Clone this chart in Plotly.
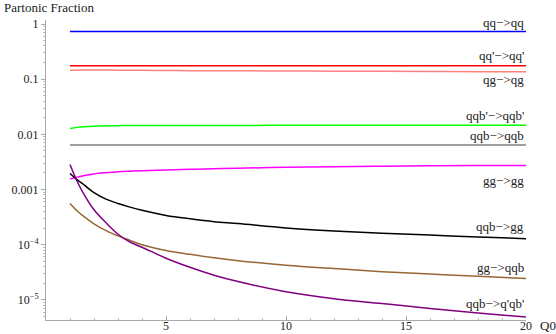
import numpy as np
import plotly.graph_objects as go

# Q0 grid and partonic fractions
q0 = [1, 1.3, 1.6, 2, 2.5, 3, 3.5, 4, 5, 6, 7, 8, 10, 12, 14, 16, 18, 20]

qq_qq = [0.73] * len(q0)
qqp_qqp = [0.175] * len(q0)
qg_qg = [0.145, 0.146, 0.147, 0.147, 0.147, 0.146, 0.146, 0.145, 0.144, 0.143,
         0.142, 0.142, 0.141, 0.140, 0.139, 0.138, 0.137, 0.137]
qqbp_qqbp = [0.0128, 0.0134, 0.0138, 0.0141, 0.0143, 0.0144, 0.0145, 0.0145, 0.0145,
             0.0145, 0.0145, 0.0145, 0.0146, 0.0146, 0.0146, 0.0146, 0.0146, 0.0146]
qqb_qqb = [0.0064] * len(q0)
gg_gg = [1.55e-3, 1.68e-3, 1.8e-3, 1.92e-3, 2.02e-3, 2.1e-3, 2.15e-3, 2.19e-3, 2.27e-3,
         2.33e-3, 2.39e-3, 2.44e-3, 2.53e-3, 2.6e-3, 2.65e-3, 2.69e-3, 2.72e-3, 2.74e-3]
qqb_gg = [1.95e-3, 1.5e-3, 1.2e-3, 8.8e-4, 6.7e-4, 5.6e-4, 4.8e-4, 4.2e-4, 3.4e-4,
          2.95e-4, 2.62e-4, 2.42e-4, 2.02e-4, 1.78e-4, 1.62e-4, 1.5e-4, 1.38e-4, 1.29e-4]
gg_qqb = [5.6e-4, 4.1e-4, 3.2e-4, 2.4e-4, 1.8e-4, 1.45e-4, 1.2e-4, 1.0e-4, 7.9e-5,
          6.7e-5, 5.8e-5, 5.15e-5, 4.27e-5, 3.7e-5, 3.25e-5, 2.95e-5, 2.68e-5, 2.45e-5]
qqb_qpqbp = [2.85e-3, 1.4e-3, 7.9e-4, 4.3e-4, 2.5e-4, 1.55e-4, 1.12e-4, 9.0e-5, 5.7e-5,
             3.9e-5, 2.8e-5, 2.15e-5, 1.41e-5, 1.05e-5, 8.6e-6, 7.0e-6, 5.8e-6, 4.9e-6]

# name, values, colour, label offset (px, + = above line end)
series = [
    ("qq\u2212>qq", qq_qq, "#0000FF", 9),
    ("qq'\u2212>qq'", qqp_qqp, "#FF0000", 10),
    ("qg\u2212>qg", qg_qg, "#FF8080", -8),
    ("qqb'\u2212>qqb'", qqbp_qqbp, "#00FF00", 10),
    ("qqb\u2212>qqb", qqb_qqb, "#808080", 10),
    ("gg\u2212>gg", gg_gg, "#FF00FF", -15),
    ("qqb\u2212>gg", qqb_gg, "#000000", 12),
    ("gg\u2212>qqb", gg_qqb, "#996633", 11),
    ("qqb\u2212>q'qb'", qqb_qpqbp, "#800080", 14),
]

ytick_vals = [1, 0.1, 0.01, 0.001, 1e-4, 1e-5]
ytick_text = ["1", "0.1", "0.01", "0.001", "10<sup>\u22124</sup>", "10<sup>\u22125</sup>"]
minor_y = [m * 10.0 ** e for e in range(-6, 1) for m in range(2, 10)]

serif = "Liberation Serif"
txt = "#222222"

fig = go.Figure()
for name, vals, color, shift in series:
    fig.add_trace(go.Scatter(x=q0, y=vals, mode="lines", name=name,
                             line=dict(color=color, width=1.5, shape="spline")))
    fig.add_annotation(x=q0[-1], y=np.log10(vals[-1]), text=name, showarrow=False,
                       xanchor="right", yanchor="middle", yshift=shift,
                       font=dict(family=serif, size=13, color=txt))

fig.add_annotation(xref="paper", yref="paper", x=0, y=1, xshift=-44, yshift=3,
                   xanchor="left", yanchor="bottom", text="Partonic Fraction",
                   showarrow=False, font=dict(family=serif, size=13, color=txt))
fig.add_annotation(xref="paper", yref="paper", x=1, y=0, xshift=12, yshift=-5,
                   xanchor="left", yanchor="middle", text="Q0",
                   showarrow=False, font=dict(family=serif, size=13, color=txt))

fig.update_xaxes(range=[0, 20], showgrid=False, zeroline=False, showline=True,
                 automargin=False, ticklabelstandoff=-5,
                 linecolor="#aaaaaa", linewidth=1, ticks="inside", ticklen=4,
                 tickcolor="#aaaaaa", tickvals=[5, 10, 15, 20],
                 minor=dict(ticks="inside", ticklen=2, tickcolor="#bbbbbb", dtick=1),
                 tickfont=dict(family=serif, size=12, color=txt))
fig.update_yaxes(type="log", range=[-5.364, 0.073], showgrid=False, zeroline=False,
                 automargin=False,
                 showline=True, linecolor="#aaaaaa", linewidth=1, ticks="outside",
                 ticklen=4, tickcolor="#aaaaaa", tickvals=ytick_vals, ticktext=ytick_text,
                 minor=dict(ticks="outside", ticklen=2, tickcolor="#bbbbbb", tickvals=minor_y),
                 tickfont=dict(family=serif, size=12, color=txt))

fig.update_layout(width=556, height=334, showlegend=False,
                  margin=dict(l=46, r=30, t=20, b=14),
                  plot_bgcolor="white", paper_bgcolor="white")

# page body margin would push the figure 8px off the window
fig.write_html("out.html", config={"displayModeBar": False},
               post_script="document.body.style.margin='0';")
